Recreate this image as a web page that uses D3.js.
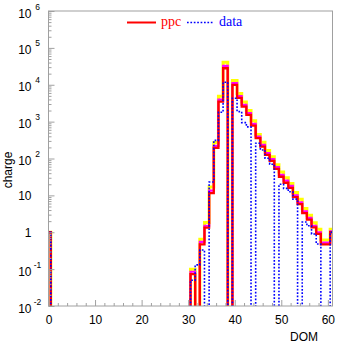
<!DOCTYPE html>
<html><head><meta charset="utf-8">
<script src="https://cdn.jsdelivr.net/npm/d3@7"></script>
<style>body{margin:0;background:#fff}svg{display:block}</style>
</head><body><svg id="c" width="337" height="344"></svg>
<script>
// DOM bins (bin i spans i-0.5 .. i+0.5)
const dom = [0,1,2,3,4,5,6,7,8,9,10,11,12,13,14,15,16,17,18,19,20,21,22,23,24,25,26,27,28,29,30,
             31,32,33,34,35,36,37,38,39,40,41,42,43,44,45,46,47,48,49,50,51,52,53,54,55,56,57,58,59,60,61];
// ppc (red)
const ppc = [1, 0,0,0,0,0,0,0,0,0,0, 0,0,0,0,0,0,0,0,0,0, 0,0,0,0,0,0,0,0,0,0,
             0.073,0,0.47,1.34,11.5,195,3500,28000,0,9900,4400,2550,1520,780,355,210,126,86,52,32,22,16,9,5.8,3.3,2.2,1.35,0.9,0.47,0.47,1];
// ppc variant (magenta)
const ppcMagenta = [1, 0,0,0,0,0,0,0,0,0,0, 0,0,0,0,0,0,0,0,0,0, 0,0,0,0,0,0,0,0,0,0,
             0.085,0,0.55,1.5,13.5,220,3950,32500,0,11000,4900,2850,1700,870,395,235,140,96,58,36,25,18,10,6.5,3.7,2.45,1.5,1.0,0.52,0.52,1.05];
// ppc variant (yellow)
const ppcYellow = [1, 0,0,0,0,0,0,0,0,0,0, 0,0,0,0,0,0,0,0,0,0, 0,0,0,0,0,0,0,0,0,0,
             0.1,0,0.65,1.85,17,270,4900,41000,0,13000,5800,3400,2000,1050,450,275,165,112,68,43,30,21,12,7.8,4.4,2.9,1.8,1.2,0.62,0.62,1.2];
// data (blue dotted)
const data = [1, 0,0,0,0,0,0,0,0,0,0, 0,0,0,0,0,0,0,0,0,0, 0,0,0,0,0,0,0,0,0,0,
             0.05,0.13,0.33,0,23,310,1800,11700,0,4300,1870,940,720,0,260,170,102,70,0,20,15.5,12.5,7.9,0,1.9,1.5,0.9,0.48,0,0,1];
const xMajor = [0,10,20,30,40,50,60];
const xMinor = [2,4,6,8,12,14,16,18,22,24,26,28,32,34,36,38,42,44,46,48,52,54,56,58];
const yDecades = [1e-2,1e-1,1,10,1e2,1e3,1e4,1e5,1e6];
const yExp = [-2,-1,0,1,2,3,4,5,6];

const L=48.5, R=332.5, T=11, B=306;
const x = d3.scaleLinear().domain([0,61]).range([L,R]);
const y = d3.scaleLog().domain([1e-2,1e6]).range([B,T]);
const svg = d3.select("#c");
svg.append("rect").attr("width",337).attr("height",344).attr("fill","#fff");
svg.append("defs").append("clipPath").attr("id","clip").append("rect")
  .attr("x",L).attr("y",T).attr("width",R-L).attr("height",B-T);

function steps(vals){
  const pts=[];
  dom.forEach((d,i)=>{ const v=vals[i]; const yy = v>0 ? y(v) : B+12;
    pts.push([x(d-0.5),yy],[x(d+0.5),yy]); });
  return pts;
}
const line = d3.line();
const gp = svg.append("g").attr("clip-path","url(#clip)");
gp.append("path").attr("d",line(steps(ppcYellow))).attr("fill","none").attr("stroke","#ffff00").attr("stroke-width",3);
gp.append("path").attr("d",line(steps(ppcMagenta))).attr("fill","none").attr("stroke","#ff00ff").attr("stroke-width",2.2);
gp.append("path").attr("d",line(steps(ppc))).attr("fill","none").attr("stroke","#ff0000").attr("stroke-width",2.3);
gp.append("path").attr("d",line(steps(data))).attr("fill","none").attr("stroke","#0000ff").attr("stroke-width",1.6).attr("stroke-dasharray","1.7,1.7");

// frame
svg.append("rect").attr("x",L).attr("y",T).attr("width",R-L).attr("height",B-T)
  .attr("fill","none").attr("stroke","#a0a0a0").attr("stroke-width",1);

const font = "'Liberation Sans', Arial, sans-serif";
function styleAxis(g){
  g.select(".domain").remove();
  g.selectAll(".tick line").attr("stroke","#a0a0a0");
  g.selectAll("text").attr("font-family",font).attr("font-size",12).attr("fill","#000");
}
const gx = svg.append("g").attr("transform",`translate(0,${B})`)
  .call(d3.axisBottom(x).tickValues(xMajor).tickSize(-6).tickPadding(9).tickFormat(d3.format("d")));
styleAxis(gx);
const gxm = svg.append("g").attr("transform",`translate(0,${B})`)
  .call(d3.axisBottom(x).tickValues(xMinor).tickSize(-3).tickFormat(""));
styleAxis(gxm);

const gy = svg.append("g").attr("transform",`translate(${L},0)`)
  .call(d3.axisLeft(y).tickValues(yDecades).tickSize(-6).tickFormat(""));
styleAxis(gy);
const yMinor = [];
yDecades.slice(0,-1).forEach(d=>{ [2,3,4,5,6,7,8,9].forEach(k=>yMinor.push(d*k)); });
const gym = svg.append("g").attr("transform",`translate(${L},0)`)
  .call(d3.axisLeft(y).tickValues(yMinor).tickSize(-3).tickFormat(""));
styleAxis(gym);

// y labels
const gl = svg.append("g").attr("font-family",font).attr("fill","#000");
yDecades.forEach((d,i)=>{
  const e = yExp[i], yy = y(d);
  if (e===0 || e===1) {
    gl.append("text").attr("x",31.5).attr("y",yy+4.8).attr("text-anchor","end").attr("font-size",12).text(e===0?"1":"10");
  } else {
    gl.append("text").attr("x",31.5).attr("y",yy+6.5).attr("text-anchor","end").attr("font-size",12).text("10");
    gl.append("text").attr("x",37.5).attr("y",yy-1.5).attr("text-anchor","middle").attr("font-size",8.5).text(String(e));
  }
});
svg.append("text").attr("transform","translate(11.5,170) rotate(-90)").attr("text-anchor","middle")
  .attr("font-family",font).attr("font-size",12).text("charge");
svg.append("text").attr("x",318).attr("y",341).attr("text-anchor","end")
  .attr("font-family",font).attr("font-size",12).text("DOM");

// legend
const serif = "'Liberation Serif', 'Times New Roman', serif";
svg.append("line").attr("x1",127).attr("x2",156).attr("y1",22.5).attr("y2",22.5).attr("stroke","#ff0000").attr("stroke-width",2);
svg.append("text").attr("x",161).attr("y",25.5).attr("font-family",serif).attr("font-size",14).attr("fill","#ff0000").text("ppc");
svg.append("line").attr("x1",187).attr("x2",213).attr("y1",22.5).attr("y2",22.5).attr("stroke","#0000ff").attr("stroke-width",1.6).attr("stroke-dasharray","1.7,1.7");
svg.append("text").attr("x",219).attr("y",25.5).attr("font-family",serif).attr("font-size",14).attr("fill","#0000ff").text("data");
</script></body></html>
